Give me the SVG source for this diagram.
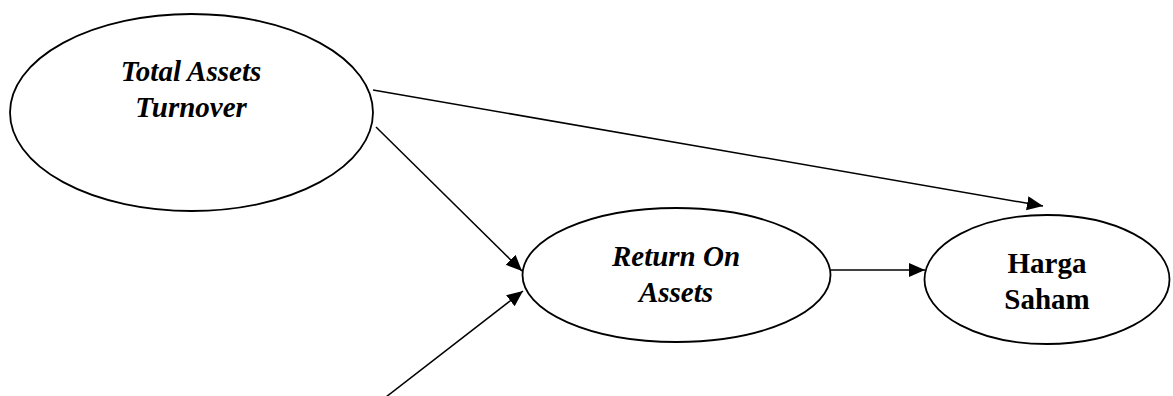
<svg xmlns="http://www.w3.org/2000/svg" width="1173" height="396" viewBox="0 0 1173 396">
<style>
.node{fill:#fff;stroke:#000;stroke-width:1.8}
.lbl{font-family:"Liberation Serif","Times New Roman",serif;font-size:29px;font-weight:bold;text-anchor:middle;fill:#000}
.it{font-style:italic}
.conn{stroke:#000;stroke-width:1.5;fill:none;marker-end:url(#ah)}
</style>
<defs>
<marker id="ah" markerUnits="userSpaceOnUse" markerWidth="17" markerHeight="15" refX="16" refY="7" orient="auto">
<path d="M0,0 L16,7 L0,14 z" fill="#000"/>
</marker>
</defs>
<rect width="1173" height="396" fill="#fff"/>
<g id="node-tat">
<ellipse class="node" cx="191.5" cy="112.5" rx="181.5" ry="98.5"/>
<text class="lbl it" x="191" y="81">Total Assets</text>
<text class="lbl it" x="191" y="117">Turnover</text>
</g>
<g id="node-roa">
<ellipse class="node" cx="676.5" cy="275" rx="154" ry="67"/>
<text class="lbl it" x="676" y="266">Return On</text>
<text class="lbl it" x="676" y="302">Assets</text>
</g>
<g id="node-hs">
<ellipse class="node" cx="1047" cy="279.5" rx="122.5" ry="64.5"/>
<text class="lbl" x="1047" y="273">Harga</text>
<text class="lbl" x="1047" y="309">Saham</text>
</g>
<g id="connectors">
<line class="conn" x1="373" y1="90" x2="1043" y2="206"/>
<line class="conn" x1="376" y1="127" x2="522" y2="271"/>
<line class="conn" x1="386" y1="397" x2="523" y2="291"/>
<line class="conn" x1="831" y1="270" x2="925" y2="270"/>
</g>
</svg>
